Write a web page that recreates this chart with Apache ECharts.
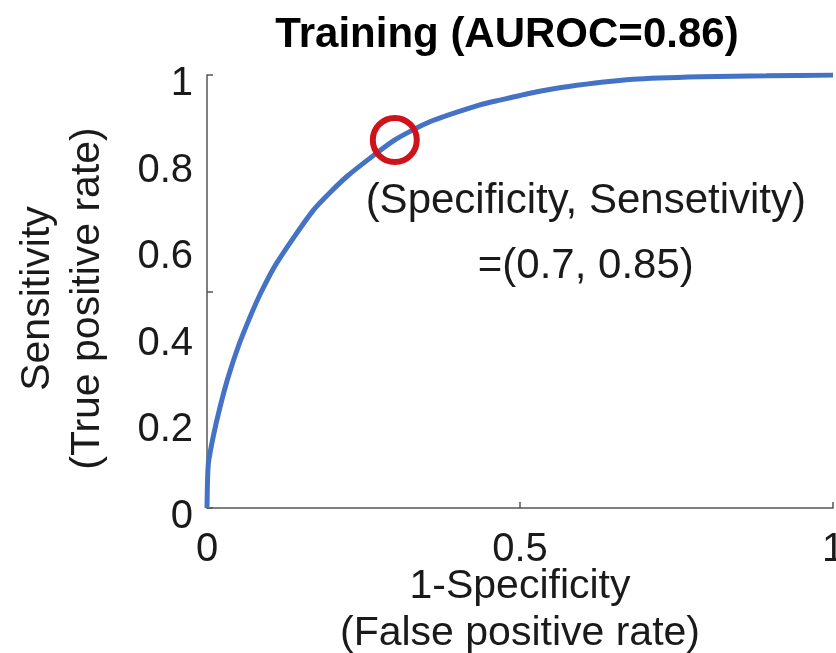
<!DOCTYPE html>
<html>
<head>
<meta charset="utf-8">
<title>Training ROC</title>
<script src="https://cdn.jsdelivr.net/npm/echarts@6/dist/echarts.min.js"></script>
<style>
  html, body { margin: 0; padding: 0; background: #ffffff; }
  #chart { width: 836px; height: 653px; }
</style>
</head>
<body>
<div id="chart"></div>
<script>
// ROC curve points: false positive rate (1 - specificity) and sensitivity
const fpr = [0, 0.002, 0.01, 0.021, 0.034, 0.05, 0.069, 0.087, 0.111, 0.17, 0.223, 0.3, 0.356, 0.436, 0.468, 0.516, 0.575, 0.681, 0.788, 0.894, 1];
const tpr = [0, 0.10, 0.165, 0.234, 0.303, 0.373, 0.442, 0.50, 0.565, 0.688, 0.765, 0.85, 0.892, 0.931, 0.942, 0.958, 0.973, 0.99, 0.996, 0.998, 1];

// Chosen operating point
const opSpecificity = 0.7;
const opSensitivity = 0.85;

const auroc = 0.86;
const yTickLabels = ['0', '0.2', '0.4', '0.6', '0.8', '1'];
const xTickLabels = ['0', '0.5', '1'];

const font = '"Liberation Sans", Arial, Helvetica, sans-serif';
const textColor = '#1a1a1a';
const axisColor = '#555555';

const curve = fpr.map((x, i) => [x, tpr[i]]);

const chart = echarts.init(document.getElementById('chart'), null, { renderer: 'canvas' });

chart.setOption({
  animation: false,
  backgroundColor: '#ffffff',
  title: {
    text: 'Training (AUROC=' + auroc.toFixed(2) + ')',
    left: 502,
    top: 9,
    textAlign: 'center',
    textStyle: { fontFamily: font, fontSize: 42, fontWeight: 'bold', color: '#000000' }
  },
  grid: { left: 207, top: 75, right: 3, bottom: 145, containLabel: false, outerBoundsMode: 'none' },
  xAxis: {
    type: 'value',
    min: 0,
    max: 1,
    interval: 0.5,
    name: '1-Specificity\n(False positive rate)',
    nameLocation: 'middle',
    nameGap: 55,
    nameMoveOverlap: false,
    nameTextStyle: { fontFamily: font, fontSize: 41, color: textColor, lineHeight: 47 },
    axisLine: { show: true, onZero: false, lineStyle: { color: axisColor, width: 1.5 } },
    axisTick: { show: true, inside: true, length: 6, lineStyle: { color: axisColor, width: 1.5 } },
    axisLabel: {
      fontFamily: font, fontSize: 40, color: textColor, margin: 22,
      formatter: v => xTickLabels[Math.round(v / 0.5)]
    },
    splitLine: { show: false }
  },
  yAxis: [
    {
      type: 'value',
      min: 0,
      max: 1,
      interval: 0.2,
      name: 'Sensitivity\n(True positive rate)',
      nameLocation: 'middle',
      nameGap: 94,
      nameMoveOverlap: false,
      nameTextStyle: { fontFamily: font, fontSize: 41, color: textColor, lineHeight: 50, padding: [0, 14, 0, 0] },
      axisLine: { show: true, onZero: false, lineStyle: { color: axisColor, width: 1.5 } },
      axisTick: { show: false },
      axisLabel: {
        fontFamily: font, fontSize: 40, color: textColor, margin: 14,
        verticalAlign: 'top',
        lineHeight: 18,
        formatter: v => yTickLabels[Math.round(v / 0.2)]
      },
      splitLine: { show: false }
    },
    {
      type: 'value',
      position: 'left',
      min: 0,
      max: 1,
      interval: 0.5,
      axisLine: { show: false },
      axisTick: { show: true, inside: true, length: 6, lineStyle: { color: axisColor, width: 1.5 } },
      axisLabel: { show: false },
      splitLine: { show: false }
    }
  ],
  series: [
    {
      type: 'line',
      data: curve,
      smooth: 0.2,
      showSymbol: false,
      symbol: 'none',
      lineStyle: { color: '#4472C4', width: 5 },
      z: 2
    },
    {
      type: 'scatter',
      data: [[1 - opSpecificity, opSensitivity]],
      symbol: 'circle',
      symbolSize: 44,
      itemStyle: { color: 'rgba(0,0,0,0)', borderColor: '#D0131A', borderWidth: 6, opacity: 1 },
      label: {
        show: true,
        position: 'inside',
        offset: [191, 94],
        align: 'center',
        verticalAlign: 'middle',
        fontFamily: font,
        fontSize: 42,
        lineHeight: 65,
        color: textColor,
        formatter: () => '(Specificity, Sensetivity)\n=(' + opSpecificity + ', ' + opSensitivity + ')'
      },
      z: 3
    }
  ]
});
</script>
</body>
</html>
